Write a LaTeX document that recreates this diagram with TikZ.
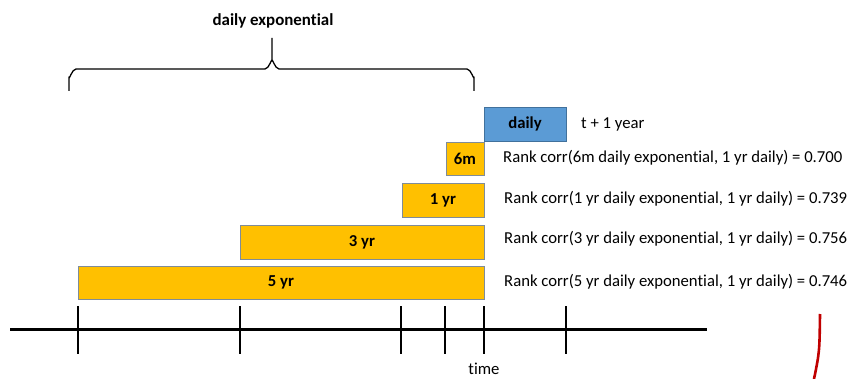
\documentclass[tikz,border=0pt]{standalone}
\usepackage{fontspec}
\setmainfont{Carlito}[Ligatures=NoCommon]
\definecolor{barorange}{HTML}{FFC000}
\definecolor{barblue}{HTML}{5B9BD5}
\definecolor{blueedge}{HTML}{41719C}
\definecolor{grayedge}{HTML}{7F8C99}
\definecolor{darkred}{HTML}{C00000}
\begin{document}
\begin{tikzpicture}[x=1pt,y=-1pt,
  orangebox/.style={draw=grayedge, line width=0.8pt, fill=barorange, inner sep=0pt, font=\fontsize{16.7}{19}\selectfont\bfseries},
  bluebox/.style={draw=blueedge, line width=0.8pt, fill=barblue, inner sep=0pt, font=\fontsize{16.7}{19}\selectfont\bfseries},
  corrtext/.style={anchor=west, inner sep=0pt, font=\fontsize{16.7}{19}\selectfont},
  tick/.style={line width=2.4pt},
  axis/.style={line width=3pt}]
\useasboundingbox (0,0) rectangle (861,379);
% brace label
\node[inner sep=0pt, font=\fontsize{16.9}{19}\selectfont\bfseries] (lbl) at (273,21) {daily exponential};
\draw[line width=1.3pt, line join=round]
  (69,91) -- (69,77) to[out=-90,in=180] (76,69) -- (265,69) to[out=0,in=90] (272,61) -- (272,38)
  (272,61) to[out=90,in=180] (279,69) -- (467,69) to[out=0,in=-90] (474,77) -- (474,91);
% boxes
\node[bluebox, minimum width=82pt, minimum height=34pt] (daily) at (525,124) {daily};
\node[orangebox, minimum width=38pt, minimum height=33pt] (m6) at (465,158.5) {6m};
\node[orangebox, minimum width=82pt, minimum height=34pt] (y1) at (443,200) {1 yr};
\node[orangebox, minimum width=244pt, minimum height=34pt] (y3) at (362,242) {3 yr};
\node[orangebox, minimum width=406pt, minimum height=33pt] (y5) at (281,282.5) {5 yr};
% texts
\node[corrtext] (tdaily) at (581,124) {t + 1 year};
\node[corrtext] (t6) at (503,158) {Rank corr(6m daily exponential, 1 yr daily) = 0.700};
\node[corrtext] (t1) at (504,199) {Rank corr(1 yr daily exponential, 1 yr daily) = 0.739};
\node[corrtext] (t3) at (504,239) {Rank corr(3 yr daily exponential, 1 yr daily) = 0.756};
\node[corrtext] (t5) at (504,282) {Rank corr(5 yr daily exponential, 1 yr daily) = 0.746};
% timeline
\coordinate (a0) at (10,329);
\coordinate (a1) at (707,329);
\draw[axis] (a0) -- (a1);
\foreach \x in {78,240,401,445,484,566} {
  \draw[tick] (\x,306) -- (\x,354);
}
\node[inner sep=0pt, anchor=base, font=\fontsize{16.7}{19}\selectfont] (time) at (484,374) {time};
% red stroke
\draw[darkred, line width=2.6pt] (820,314) .. controls (819.5,352) .. (814,379);
\end{tikzpicture}
\end{document}
